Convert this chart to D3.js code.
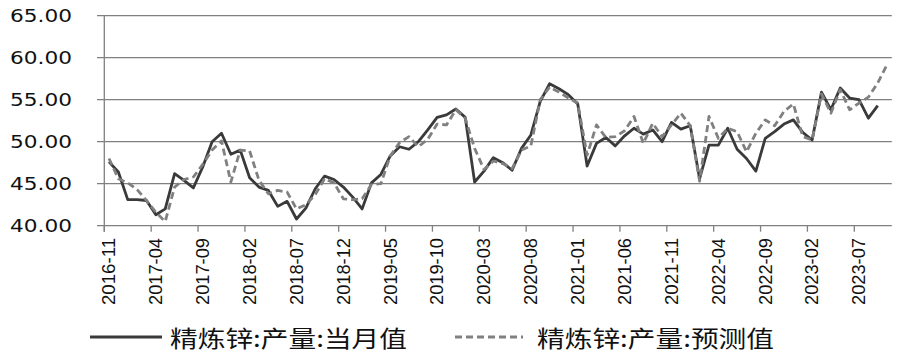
<!DOCTYPE html>
<html><head><meta charset="utf-8">
<script src="https://cdn.jsdelivr.net/npm/d3@7"></script>
<style>html,body{margin:0;padding:0;background:#fff;} svg{display:block}</style>
</head><body><svg id="c" width="900" height="355"></svg>
<script>
const months = [
"2016-11","2016-12",
"2017-01","2017-02","2017-03","2017-04","2017-05","2017-06","2017-07","2017-08","2017-09","2017-10","2017-11","2017-12",
"2018-01","2018-02","2018-03","2018-04","2018-05","2018-06","2018-07","2018-08","2018-09","2018-10","2018-11","2018-12",
"2019-01","2019-02","2019-03","2019-04","2019-05","2019-06","2019-07","2019-08","2019-09","2019-10","2019-11","2019-12",
"2020-01","2020-02","2020-03","2020-04","2020-05","2020-06","2020-07","2020-08","2020-09","2020-10","2020-11","2020-12",
"2021-01","2021-02","2021-03","2021-04","2021-05","2021-06","2021-07","2021-08","2021-09","2021-10","2021-11","2021-12",
"2022-01","2022-02","2022-03","2022-04","2022-05","2022-06","2022-07","2022-08","2022-09","2022-10","2022-11","2022-12",
"2023-01","2023-02","2023-03","2023-04","2023-05","2023-06","2023-07","2023-08","2023-09","2023-10"];

const actual = [
47.6,46.4,43.1,43.1,43.0,41.3,42.0,46.2,45.4,44.5,
47.0,50.0,51.0,48.5,49.0,45.7,44.6,44.2,42.3,42.9,
40.8,42.1,44.4,45.9,45.5,44.6,43.4,42.0,45.1,46.1,
48.3,49.4,49.1,50.0,51.4,52.9,53.2,53.9,52.9,45.2,
46.5,48.1,47.5,46.6,49.2,50.8,54.8,56.9,56.3,55.6,
54.5,47.1,49.8,50.5,49.5,50.7,51.6,50.9,51.4,50.0,
52.3,51.5,51.9,45.6,49.6,49.6,51.6,49.1,48.0,46.5,
50.4,51.2,52.1,52.6,51.1,50.2,55.9,53.8,56.4,55.2,
55.0,52.8,54.3];

const forecast = [
48.0,45.6,45.1,44.3,43.0,41.6,40.5,44.6,45.5,45.8,
47.3,49.0,50.1,45.2,49.0,48.9,45.4,43.8,44.2,44.0,
42.0,42.5,43.7,45.6,45.1,43.2,43.1,43.2,44.9,45.0,
48.3,49.9,50.6,49.4,50.3,52.1,52.0,53.8,52.8,49.2,
46.7,47.7,47.4,46.8,49.0,49.5,55.0,56.5,55.9,55.2,
54.6,48.4,52.0,50.5,50.6,51.3,53.0,49.8,52.2,50.6,
52.0,53.4,51.9,45.3,53.0,50.4,51.6,51.2,48.8,51.0,
52.6,51.9,53.6,54.5,50.6,50.2,55.7,53.4,56.2,53.8,
54.6,55.3,57.0,59.2];

const yTicks = [40,45,50,55,60,65];
const xTickLabels = ["2016-11","2017-04","2017-09","2018-02","2018-07","2018-12","2019-05","2019-10",
"2020-03","2020-08","2021-01","2021-06","2021-11","2022-04","2022-09","2023-02","2023-07"];
const seriesNames = ["精炼锌:产量:当月值","精炼锌:产量:预测值"];

const svg = d3.select("#c");
const x = d3.scaleBand().domain(months).range([104.3, 891.8]).padding(0);
const y = d3.scaleLinear().domain([40,65]).range([225.7,15.7]);
const cx = m => x(m) + x.bandwidth()/2;
const gridColor = "#808080";

// gridlines + y ticks
svg.append("g").selectAll("line").data(yTicks).join("line")
  .attr("x1", 97).attr("x2", 891.8)
  .attr("y1", d => y(d)).attr("y2", d => y(d))
  .attr("stroke", gridColor).attr("stroke-width", 1.3);

// y axis line
svg.append("line").attr("x1", 104.3).attr("x2", 104.3)
  .attr("y1", y(65)).attr("y2", y(40) + 6)
  .attr("stroke", gridColor).attr("stroke-width", 1.3);

// y labels
svg.append("g").selectAll("text").data(yTicks).join("text")
  .attr("x", 72).attr("y", d => y(d))
  .attr("text-anchor", "end").attr("dominant-baseline", "central")
  .attr("font-family", "DejaVu Sans").attr("font-size", 18)
  .attr("textLength", 62).attr("lengthAdjust", "spacingAndGlyphs")
  .attr("fill", "#111")
  .text(d => d.toFixed(2));

// x ticks
svg.append("g").selectAll("line").data(xTickLabels).join("line")
  .attr("x1", d => x(d)).attr("x2", d => x(d))
  .attr("y1", y(40)).attr("y2", y(40) + 6)
  .attr("stroke", gridColor).attr("stroke-width", 1.3);

// x labels
svg.append("g").selectAll("text").data(xTickLabels).join("text")
  .attr("transform", d => `translate(${cx(d)},238) rotate(-90)`)
  .attr("text-anchor", "end").attr("dy", "0.35em")
  .attr("font-family", "Liberation Sans, Arial").attr("font-size", 18)
  .attr("textLength", 67).attr("lengthAdjust", "spacingAndGlyphs")
  .attr("fill", "#111")
  .text(d => d);

const line = d3.line().x((d, i) => cx(months[i])).y(d => y(d));

svg.append("path").datum(actual).attr("d", line)
  .attr("fill", "none").attr("stroke", "#3a3a3a").attr("stroke-width", 2.8)
  .attr("stroke-linejoin", "round");

svg.append("path").datum(forecast).attr("d", line)
  .attr("fill", "none").attr("stroke", "#808080").attr("stroke-width", 2.8)
  .attr("stroke-dasharray", "7,4").attr("stroke-linejoin", "round");

// legend
const legend = [
  {name: seriesNames[0], x1: 90, x2: 162, tx: 170, color: "#3a3a3a", dash: null},
  {name: seriesNames[1], x1: 455, x2: 523, tx: 537, color: "#808080", dash: "7,4"}
];
const lg = svg.append("g");
legend.forEach(l => {
  lg.append("line").attr("x1", l.x1).attr("x2", l.x2).attr("y1", 337).attr("y2", 337)
    .attr("stroke", l.color).attr("stroke-width", 2.8)
    .attr("stroke-dasharray", l.dash);
  lg.append("text").attr("x", l.tx).attr("y", 337)
    .attr("dominant-baseline", "central")
    .attr("font-family", "Noto Sans CJK SC").attr("font-size", 23)
    .attr("textLength", 237).attr("lengthAdjust", "spacingAndGlyphs")
    .attr("fill", "#111")
    .text(l.name);
});
</script>
</body></html>
